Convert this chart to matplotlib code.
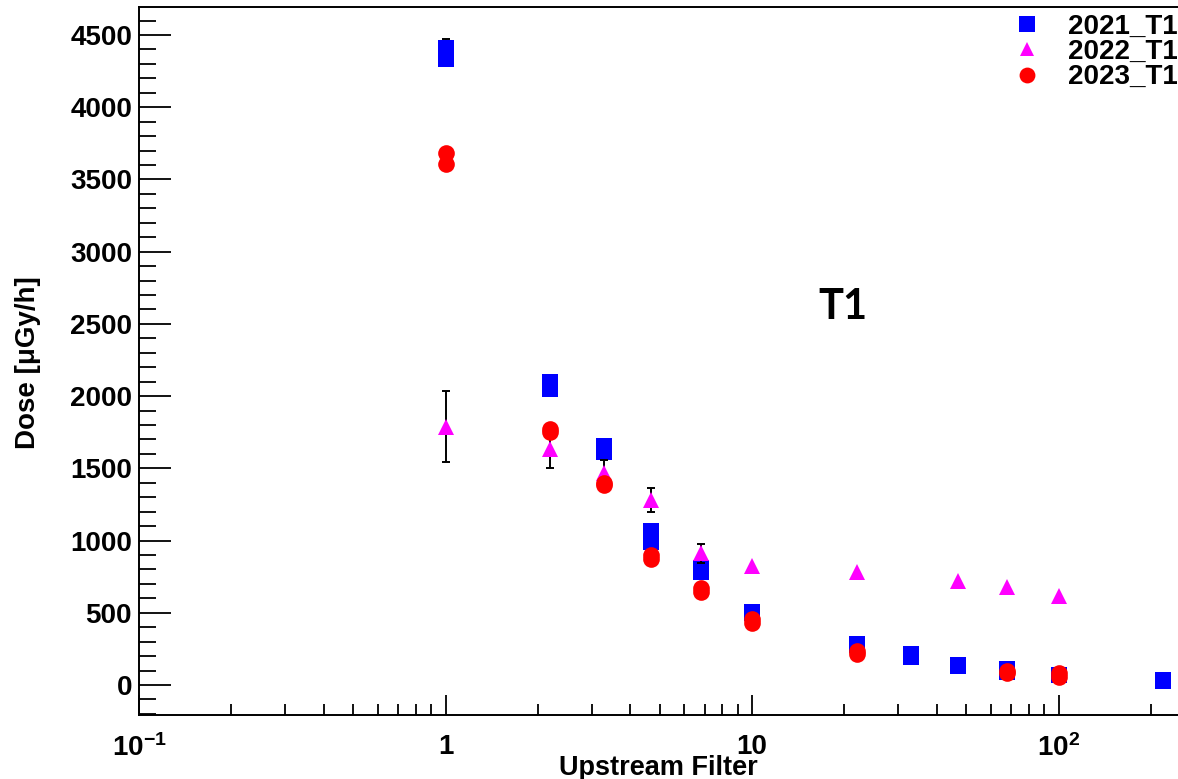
import numpy as np
import matplotlib
matplotlib.use("Agg")
import matplotlib.pyplot as plt
from matplotlib.ticker import MultipleLocator, LogLocator, FuncFormatter, NullFormatter

plt.rcParams['font.family'] = ['Liberation Sans', 'DejaVu Sans']
plt.rcParams['font.weight'] = 'bold'
plt.rcParams['mathtext.fontset'] = 'custom'
plt.rcParams['mathtext.rm'] = 'Liberation Sans:bold'
plt.rcParams['mathtext.it'] = 'Liberation Sans:bold'
plt.rcParams['mathtext.bf'] = 'Liberation Sans:bold'
plt.rcParams['axes.unicode_minus'] = True

# ---------------- data ----------------
filters_2021 = [1, 2.2, 3.3, 4.7, 6.8, 10, 22, 33, 47, 68, 100, 220]
dose_2021_a = [4410, 2098, 1655, 1066, 810, 502, 284, 215, 138, 111, 70, 32]
dose_2021_b = [4335, 2050, 1614, 990, 783, 498, 280, 194, 132, 90, 66, 30]
err_2021 = [63, 30, 30, 30, 25, 20, 15, 12, 10, 8, 6, 4]

filters_2022 = [1, 2.2, 3.3, 4.7, 6.8, 10, 22, 47, 68, 100]
dose_2022 = [1787, 1631, 1465, 1281, 911, 824, 783, 717, 675, 616]
err_2022 = [245, 130, 90, 83, 65, 0, 0, 0, 0, 0]

filters_2023 = [1, 2.2, 3.3, 4.7, 6.8, 10, 22, 68, 100]
dose_2023_a = [3680, 1769, 1400, 897, 668, 460, 232, 100, 80]
dose_2023_b = [3604, 1748, 1385, 869, 647, 426, 211, 80, 52]

labels = ['2021_T1', '2022_T1', '2023_T1']
x_tick_values = [0.1, 1, 10, 100]
x_tick_labels = ['$10^{-1}$', '1', '10', '$10^{2}$']

# ---------------- figure ----------------
W, H = 1178, 779
fig = plt.figure(figsize=(W / 100, H / 100), dpi=100)
ax_left = 139 / W
ax_bottom = 1 - 715 / H
ax_height = (715 - 7) / H
ax_width = (306.5 * np.log10(300 / 0.1)) / W
ax = fig.add_axes([ax_left, ax_bottom, ax_width, ax_height])

blue = '#0000ff'
mag = '#ff00ff'
red = '#ff0000'

ax.errorbar(filters_2021, dose_2021_a, yerr=err_2021, fmt='none', ecolor='black',
            elinewidth=1.4, capsize=2.6, capthick=1.4, zorder=2)
ax.plot(filters_2021, dose_2021_a, ls='none', marker='s', ms=11.5, mfc=blue, mec=blue,
        mew=0, zorder=3, label=labels[0])
ax.plot(filters_2021, dose_2021_b, ls='none', marker='s', ms=11.5, mfc=blue, mec=blue,
        mew=0, zorder=3)

e22 = np.array(err_2022, dtype=float)
has = e22 > 0
ax.errorbar(np.array(filters_2022)[has], np.array(dose_2022)[has], yerr=e22[has],
            fmt='none', ecolor='black', elinewidth=1.4, capsize=2.6, capthick=1.4, zorder=4)
ax.plot(filters_2022, dose_2022, ls='none', marker='^', ms=11, mfc=mag, mec=mag,
        mew=0, zorder=5, label=labels[1])

ax.plot(filters_2023, dose_2023_a, ls='none', marker='o', ms=12, mfc=red, mec=red,
        mew=0, zorder=6, label=labels[2])
ax.plot(filters_2023, dose_2023_b, ls='none', marker='o', ms=12, mfc=red, mec=red,
        mew=0, zorder=6)

ax.set_xscale('log')
ax.set_xlim(0.1, 300)
ax.set_ylim(-208, 4694)

ax.yaxis.set_major_locator(MultipleLocator(500))
ax.yaxis.set_minor_locator(MultipleLocator(100))
ax.xaxis.set_major_locator(LogLocator(base=10, numticks=20))
ax.xaxis.set_minor_locator(LogLocator(base=10, subs=np.arange(2, 10), numticks=20))
ax.xaxis.set_minor_formatter(NullFormatter())
lab_map = dict(zip(x_tick_values, x_tick_labels))


def xfmt(v, pos):
    for k, s in lab_map.items():
        if abs(v - k) / k < 1e-6:
            return s
    return ''


ax.xaxis.set_major_formatter(FuncFormatter(xfmt))

for s in ax.spines.values():
    s.set_linewidth(1.4)
ax.spines['right'].set_visible(False)

ax.tick_params(axis='y', which='major', direction='in', length=23, width=1.3,
               labelsize=20, pad=5, right=False)
ax.tick_params(axis='y', which='minor', direction='in', length=12, width=1.3, right=False)
ax.tick_params(axis='x', which='major', direction='in', length=14.5, width=1.3,
               labelsize=20, pad=14, top=False)
ax.tick_params(axis='x', which='minor', direction='in', length=8, width=1.3, top=False)

fig.text(28 / W, 1 - 363 / H, 'Dose [μGy/h]', rotation=90, ha='center', va='center',
         fontsize=20, fontweight='bold')
fig.text(658 / W, 1 - 775 / H, 'Upstream Filter', ha='center', va='baseline',
         fontsize=19.5, fontweight='bold')
fig.text(843 / W, 1 - 307 / H, 'T1', ha='center', va='center', fontsize=30,
         fontweight='bold', family=['Lato', 'DejaVu Sans'])

leg = ax.legend(loc='upper right', bbox_to_anchor=(1.0, 1 - 14 / H),
                bbox_transform=fig.transFigure, frameon=False, fontsize=20,
                handlelength=1.0, handletextpad=1.0, labelspacing=-0.03,
                borderpad=0, borderaxespad=0, markerscale=0.95)

fig.savefig('out.png', dpi=100)
